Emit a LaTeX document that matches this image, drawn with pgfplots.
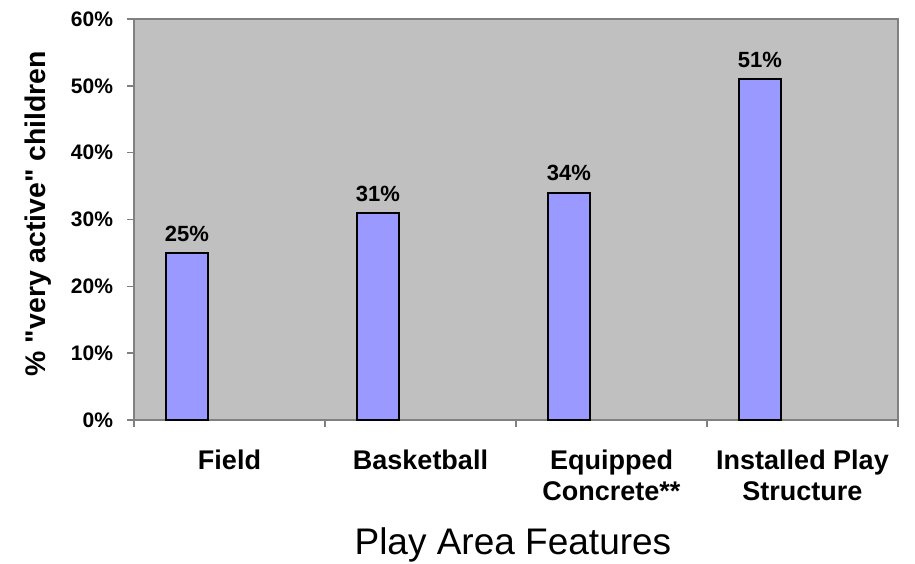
\documentclass[border=0pt]{standalone}
\usepackage{pgfplots}
\pgfplotsset{compat=1.18}
\usepackage{fontspec}
\setmainfont{Liberation Sans}
\definecolor{plotbg}{HTML}{C0C0C0}
\definecolor{barfill}{HTML}{9999FF}
\definecolor{axgray}{HTML}{808080}
\begin{document}
\begin{tikzpicture}
\begin{axis}[
  at={(0,0)}, anchor=south west,
  scale only axis,
  width=382pt, height=200.5pt,
  xmin=-0.5, xmax=3.5,
  ymin=0, ymax=60,
  axis background/.style={fill=plotbg},
  axis line style={draw=axgray, line width=0.8pt},
  xtick={0,1,2,3},
  xticklabels={Field, Basketball, {Equipped\\Concrete**}, {Installed Play\\Structure}},
  minor xtick={-0.5,0.5,1.5,2.5,3.5},
  major x tick style={draw=none},
  minor x tick style={draw=axgray, line width=0.8pt},
  ytick={0,10,20,30,40,50,60},
  yticklabel={\pgfmathprintnumber{\tick}\%},
  y tick style={draw=axgray, line width=0.8pt},
  tick align=outside,
  major tick length=3.5pt,
  minor tick length=3.5pt,
  xtick pos=bottom, ytick pos=left,
  /pgf/number format/assume math mode=true,
  yticklabel style={font=\fontsize{10.5}{12}\selectfont\bfseries, xshift=-3.5pt},
  xticklabel style={font=\fontsize{13.5}{15.5}\selectfont\bfseries, align=center, yshift=-8pt},
  ylabel={\% \textquotedbl very active\textquotedbl\ children},
  ylabel style={at={(axis description cs:-0.1257,0.515)}, anchor=center, font=\fontsize{14.2}{16}\selectfont\bfseries},
  xlabel={Play Area Features},
  xlabel style={at={(axis description cs:0.496,0)}, anchor=center, yshift=-62.5pt, font=\fontsize{18.5}{20}\selectfont},
  nodes near coords={\pgfmathprintnumber{\pgfplotspointmeta}\%},
  every node near coord/.append style={font=\fontsize{11}{12}\selectfont\bfseries, yshift=2pt, xshift=-21.25pt},
]
\addplot[ybar, bar width=0.22, bar shift=-0.2225, fill=barfill, draw=black, line width=0.9pt]
  coordinates {(0,25) (1,31) (2,34) (3,51)};
\end{axis}
\pgfresetboundingbox
\path[use as bounding box] (-67pt,-71.5pt) rectangle (390.5pt,210pt);
\end{tikzpicture}
\end{document}
